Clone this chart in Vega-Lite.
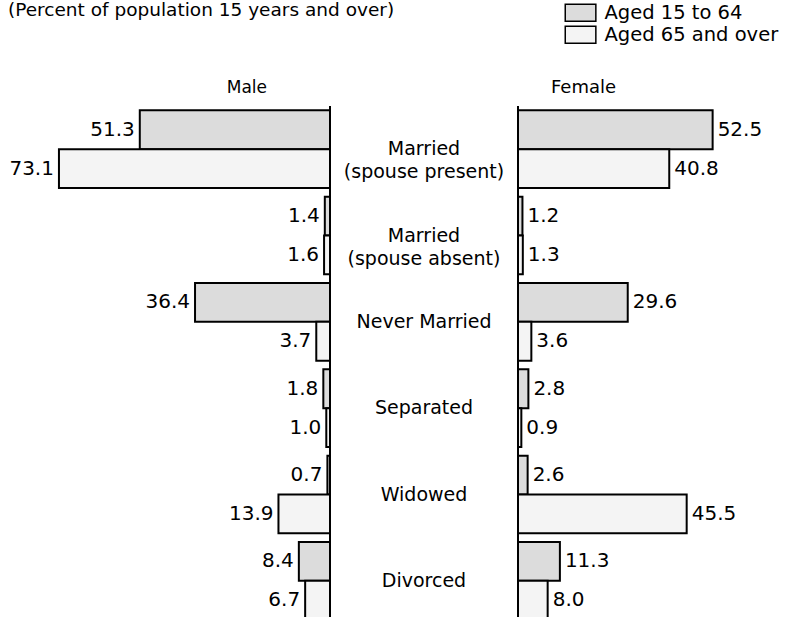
{
  "$schema": "https://vega.github.io/schema/vega-lite/v6.json",
  "padding": 0,
  "background": "white",
  "title": {"text": "(Percent of population 15 years and over)", "anchor": "start", "fontSize": 18.5, "fontWeight": "normal", "font": "DejaVu Sans", "color": "black", "offset": 4, "dx": 8, "dy": 20},
  "datasets": {
    "bars": [
      {"cat": "Married (spouse present)", "sex": "Male", "age": "Aged 15 to 64", "value": 51.3},
      {"cat": "Married (spouse present)", "sex": "Male", "age": "Aged 65 and over", "value": 73.1},
      {"cat": "Married (spouse present)", "sex": "Female", "age": "Aged 15 to 64", "value": 52.5},
      {"cat": "Married (spouse present)", "sex": "Female", "age": "Aged 65 and over", "value": 40.8},
      {"cat": "Married (spouse absent)", "sex": "Male", "age": "Aged 15 to 64", "value": 1.4},
      {"cat": "Married (spouse absent)", "sex": "Male", "age": "Aged 65 and over", "value": 1.6},
      {"cat": "Married (spouse absent)", "sex": "Female", "age": "Aged 15 to 64", "value": 1.2},
      {"cat": "Married (spouse absent)", "sex": "Female", "age": "Aged 65 and over", "value": 1.3},
      {"cat": "Never Married", "sex": "Male", "age": "Aged 15 to 64", "value": 36.4},
      {"cat": "Never Married", "sex": "Male", "age": "Aged 65 and over", "value": 3.7},
      {"cat": "Never Married", "sex": "Female", "age": "Aged 15 to 64", "value": 29.6},
      {"cat": "Never Married", "sex": "Female", "age": "Aged 65 and over", "value": 3.6},
      {"cat": "Separated", "sex": "Male", "age": "Aged 15 to 64", "value": 1.8},
      {"cat": "Separated", "sex": "Male", "age": "Aged 65 and over", "value": 1.0},
      {"cat": "Separated", "sex": "Female", "age": "Aged 15 to 64", "value": 2.8},
      {"cat": "Separated", "sex": "Female", "age": "Aged 65 and over", "value": 0.9},
      {"cat": "Widowed", "sex": "Male", "age": "Aged 15 to 64", "value": 0.7},
      {"cat": "Widowed", "sex": "Male", "age": "Aged 65 and over", "value": 13.9},
      {"cat": "Widowed", "sex": "Female", "age": "Aged 15 to 64", "value": 2.6},
      {"cat": "Widowed", "sex": "Female", "age": "Aged 65 and over", "value": 45.5},
      {"cat": "Divorced", "sex": "Male", "age": "Aged 15 to 64", "value": 8.4},
      {"cat": "Divorced", "sex": "Male", "age": "Aged 65 and over", "value": 6.7},
      {"cat": "Divorced", "sex": "Female", "age": "Aged 15 to 64", "value": 11.3},
      {"cat": "Divorced", "sex": "Female", "age": "Aged 65 and over", "value": 8.0}
    ],
    "cats": [
      {"cat": "Married (spouse present)", "l1": "Married", "l2": "(spouse present)"},
      {"cat": "Married (spouse absent)", "l1": "Married", "l2": "(spouse absent)"},
      {"cat": "Never Married", "l1": "Never Married", "l2": ""},
      {"cat": "Separated", "l1": "Separated", "l2": ""},
      {"cat": "Widowed", "l1": "Widowed", "l2": ""},
      {"cat": "Divorced", "l1": "Divorced", "l2": ""}
    ]
  },
  "spacing": 0,
  "hconcat": [
    {
      "width": 330,
      "height": 511,
      "title": {"text": "Male", "anchor": "end", "dx": -64, "fontSize": 17, "fontWeight": "normal", "font": "DejaVu Sans", "color": "black", "offset": 8},
      "data": {"name": "bars"},
      "transform": [{"filter": "datum.sex === 'Male'"}],
      "encoding": {
        "y": {"field": "cat", "type": "nominal", "axis": null, "sort": null,
              "scale": {"domain": ["Married (spouse present)", "Married (spouse absent)", "Never Married", "Separated", "Widowed", "Divorced"], "range": [0, 518], "paddingInner": 0.1, "paddingOuter": 0.05}},
        "yOffset": {"field": "age", "type": "nominal", "scale": {"domain": ["Aged 15 to 64", "Aged 65 and over"], "paddingInner": 0, "paddingOuter": 0}}
      },
      "layer": [
        {
          "mark": {"type": "bar", "stroke": "black", "strokeWidth": 2, "clip": true},
          "encoding": {
            "x": {"field": "value", "type": "quantitative", "axis": null, "scale": {"domain": [0, 89], "reverse": true, "nice": false}},
            "fill": {"field": "age", "type": "nominal", "scale": {"domain": ["Aged 15 to 64", "Aged 65 and over"], "range": ["#dcdcdc", "#f4f4f4"]},
                     "legend": {"title": null, "symbolSize": 289, "symbolType": "M-1,-1H2.6V1H-1Z", "symbolStrokeColor": "black", "symbolStrokeWidth": 1.5, "labelLimit": 400}}
          }
        },
        {
          "mark": {"type": "text", "align": "right", "baseline": "middle", "dx": -5, "fontSize": 20, "font": "DejaVu Sans", "color": "black", "clip": true},
          "encoding": {
            "x": {"field": "value", "type": "quantitative"},
            "text": {"field": "value", "type": "quantitative", "format": ".1f"}
          }
        },
        {
          "mark": {"type": "rule", "stroke": "black", "strokeWidth": 2},
          "encoding": {"x": {"datum": 0}, "y": null, "yOffset": null}
        }
      ]
    },
    {
      "width": 186,
      "height": 511,
      "data": {"name": "cats"},
      "encoding": {
        "y": {"field": "cat", "type": "nominal", "axis": null, "sort": null,
              "scale": {"domain": ["Married (spouse present)", "Married (spouse absent)", "Never Married", "Separated", "Widowed", "Divorced"], "range": [0, 518], "paddingInner": 0.1, "paddingOuter": 0.05}}
      },
      "layer": [
        {
          "mark": {"type": "text", "align": "center", "baseline": "middle", "fontSize": 19, "font": "DejaVu Sans", "color": "black", "clip": true},
          "encoding": {"text": {"field": "l1"}}
        },
        {
          "mark": {"type": "text", "align": "center", "baseline": "middle", "dy": 23, "fontSize": 19, "font": "DejaVu Sans", "color": "black", "clip": true},
          "encoding": {"text": {"field": "l2"}}
        }
      ]
    },
    {
      "width": 271,
      "height": 511,
      "title": {"text": "Female", "anchor": "start", "dx": 34, "fontSize": 18, "fontWeight": "normal", "font": "DejaVu Sans", "color": "black", "offset": 8},
      "data": {"name": "bars"},
      "transform": [{"filter": "datum.sex === 'Female'"}],
      "encoding": {
        "y": {"field": "cat", "type": "nominal", "axis": null, "sort": null,
              "scale": {"domain": ["Married (spouse present)", "Married (spouse absent)", "Never Married", "Separated", "Widowed", "Divorced"], "range": [0, 518], "paddingInner": 0.1, "paddingOuter": 0.05}},
        "yOffset": {"field": "age", "type": "nominal", "scale": {"domain": ["Aged 15 to 64", "Aged 65 and over"], "paddingInner": 0, "paddingOuter": 0}}
      },
      "layer": [
        {
          "mark": {"type": "bar", "stroke": "black", "strokeWidth": 2, "clip": true},
          "encoding": {
            "x": {"field": "value", "type": "quantitative", "axis": null, "scale": {"domain": [0, 73.1], "nice": false}},
            "fill": {"field": "age", "type": "nominal", "scale": {"domain": ["Aged 15 to 64", "Aged 65 and over"], "range": ["#dcdcdc", "#f4f4f4"]},
                     "legend": {"title": null, "symbolSize": 289, "symbolType": "M-1,-1H2.6V1H-1Z", "symbolStrokeColor": "black", "symbolStrokeWidth": 1.5, "labelLimit": 400}}
          }
        },
        {
          "mark": {"type": "text", "align": "left", "baseline": "middle", "dx": 5, "fontSize": 20, "font": "DejaVu Sans", "color": "black", "clip": true},
          "encoding": {
            "x": {"field": "value", "type": "quantitative"},
            "text": {"field": "value", "type": "quantitative", "format": ".1f"}
          }
        },
        {
          "mark": {"type": "rule", "stroke": "black", "strokeWidth": 2},
          "encoding": {"x": {"datum": 0}, "y": null, "yOffset": null}
        }
      ]
    }
  ],
  "resolve": {"scale": {"fill": "shared"}, "legend": {"fill": "shared"}},
  "config": {
    "view": {"stroke": null},
    "legend": {
      "orient": "none", "legendX": 564, "legendY": -103,
      "symbolOpacity": 1,
      "labelFontSize": 19.5, "labelFont": "DejaVu Sans", "labelColor": "black",
      "rowPadding": -10, "labelOffset": 21, "padding": 0
    }
  }
}
